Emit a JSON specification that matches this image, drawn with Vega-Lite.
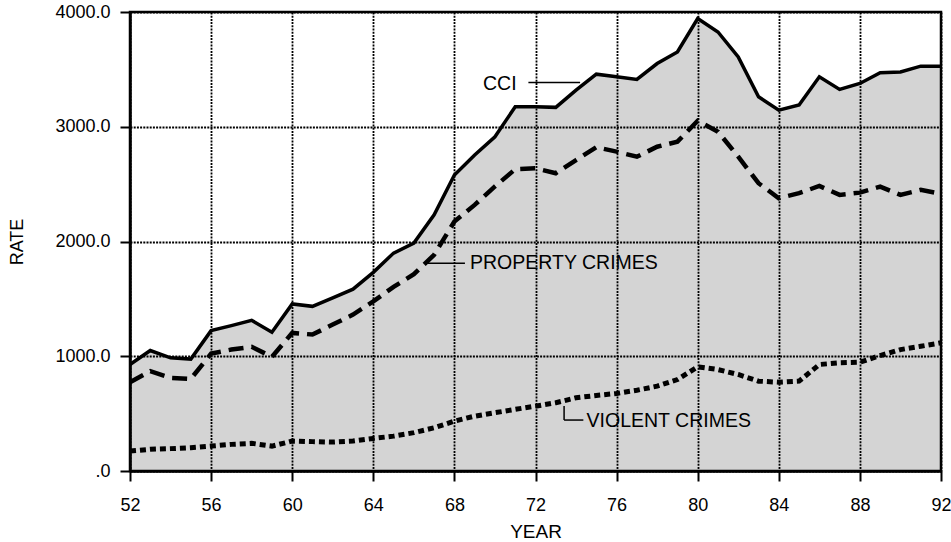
{
  "$schema": "https://vega.github.io/schema/vega-lite/v6.json",
  "width": 811,
  "height": 459,
  "autosize": "none",
  "padding": {"left": 130, "top": 12, "right": 10, "bottom": 71},
  "background": "white",
  "config": {
    "font": "Liberation Sans",
    "view": {"stroke": "black", "strokeWidth": 2.5},
    "axis": {
      "labelFont": "Liberation Sans",
      "titleFont": "Liberation Sans",
      "labelColor": "black",
      "titleColor": "black",
      "titleFontWeight": "normal",
      "labelFontSize": 18,
      "domainColor": "black",
      "domainWidth": 2.5,
      "tickColor": "black",
      "tickWidth": 2,
      "tickSize": 10,
      "gridColor": "black",
      "gridOpacity": 1,
      "gridWidth": 1.8,
      "gridDash": [2, 1.2]
    }
  },
  "datasets": {
    "series": [
      {"year": 52, "series": "CCI", "value": 928},
      {"year": 53, "series": "CCI", "value": 1050},
      {"year": 54, "series": "CCI", "value": 986},
      {"year": 55, "series": "CCI", "value": 975},
      {"year": 56, "series": "CCI", "value": 1223},
      {"year": 57, "series": "CCI", "value": 1267},
      {"year": 58, "series": "CCI", "value": 1313},
      {"year": 59, "series": "CCI", "value": 1209},
      {"year": 60, "series": "CCI", "value": 1456},
      {"year": 61, "series": "CCI", "value": 1435},
      {"year": 62, "series": "CCI", "value": 1508},
      {"year": 63, "series": "CCI", "value": 1585},
      {"year": 64, "series": "CCI", "value": 1731},
      {"year": 65, "series": "CCI", "value": 1899},
      {"year": 66, "series": "CCI", "value": 1986},
      {"year": 67, "series": "CCI", "value": 2232},
      {"year": 68, "series": "CCI", "value": 2580},
      {"year": 69, "series": "CCI", "value": 2754},
      {"year": 70, "series": "CCI", "value": 2913},
      {"year": 71, "series": "CCI", "value": 3174},
      {"year": 72, "series": "CCI", "value": 3174},
      {"year": 73, "series": "CCI", "value": 3169},
      {"year": 74, "series": "CCI", "value": 3319},
      {"year": 75, "series": "CCI", "value": 3458},
      {"year": 76, "series": "CCI", "value": 3435},
      {"year": 77, "series": "CCI", "value": 3412},
      {"year": 78, "series": "CCI", "value": 3551},
      {"year": 79, "series": "CCI", "value": 3652},
      {"year": 80, "series": "CCI", "value": 3943},
      {"year": 81, "series": "CCI", "value": 3826},
      {"year": 82, "series": "CCI", "value": 3609},
      {"year": 83, "series": "CCI", "value": 3261},
      {"year": 84, "series": "CCI", "value": 3145},
      {"year": 85, "series": "CCI", "value": 3189},
      {"year": 86, "series": "CCI", "value": 3435},
      {"year": 87, "series": "CCI", "value": 3325},
      {"year": 88, "series": "CCI", "value": 3377},
      {"year": 89, "series": "CCI", "value": 3470},
      {"year": 90, "series": "CCI", "value": 3478},
      {"year": 91, "series": "CCI", "value": 3528},
      {"year": 92, "series": "CCI", "value": 3528},
      {"year": 52, "series": "Property", "value": 774},
      {"year": 53, "series": "Property", "value": 870},
      {"year": 54, "series": "Property", "value": 812},
      {"year": 55, "series": "Property", "value": 803},
      {"year": 56, "series": "Property", "value": 1023},
      {"year": 57, "series": "Property", "value": 1058},
      {"year": 58, "series": "Property", "value": 1082},
      {"year": 59, "series": "Property", "value": 995},
      {"year": 60, "series": "Property", "value": 1203},
      {"year": 61, "series": "Property", "value": 1189},
      {"year": 62, "series": "Property", "value": 1276},
      {"year": 63, "series": "Property", "value": 1363},
      {"year": 64, "series": "Property", "value": 1478},
      {"year": 65, "series": "Property", "value": 1605},
      {"year": 66, "series": "Property", "value": 1715},
      {"year": 67, "series": "Property", "value": 1884},
      {"year": 68, "series": "Property", "value": 2174},
      {"year": 69, "series": "Property", "value": 2319},
      {"year": 70, "series": "Property", "value": 2480},
      {"year": 71, "series": "Property", "value": 2630},
      {"year": 72, "series": "Property", "value": 2638},
      {"year": 73, "series": "Property", "value": 2595},
      {"year": 74, "series": "Property", "value": 2710},
      {"year": 75, "series": "Property", "value": 2821},
      {"year": 76, "series": "Property", "value": 2783},
      {"year": 77, "series": "Property", "value": 2739},
      {"year": 78, "series": "Property", "value": 2826},
      {"year": 79, "series": "Property", "value": 2870},
      {"year": 80, "series": "Property", "value": 3052},
      {"year": 81, "series": "Property", "value": 2957},
      {"year": 82, "series": "Property", "value": 2739},
      {"year": 83, "series": "Property", "value": 2508},
      {"year": 84, "series": "Property", "value": 2377},
      {"year": 85, "series": "Property", "value": 2421},
      {"year": 86, "series": "Property", "value": 2484},
      {"year": 87, "series": "Property", "value": 2406},
      {"year": 88, "series": "Property", "value": 2426},
      {"year": 89, "series": "Property", "value": 2478},
      {"year": 90, "series": "Property", "value": 2406},
      {"year": 91, "series": "Property", "value": 2450},
      {"year": 92, "series": "Property", "value": 2415},
      {"year": 52, "series": "Violent", "value": 174},
      {"year": 53, "series": "Violent", "value": 189},
      {"year": 54, "series": "Violent", "value": 195},
      {"year": 55, "series": "Violent", "value": 203},
      {"year": 56, "series": "Violent", "value": 217},
      {"year": 57, "series": "Violent", "value": 232},
      {"year": 58, "series": "Violent", "value": 241},
      {"year": 59, "series": "Violent", "value": 217},
      {"year": 60, "series": "Violent", "value": 261},
      {"year": 61, "series": "Violent", "value": 256},
      {"year": 62, "series": "Violent", "value": 252},
      {"year": 63, "series": "Violent", "value": 261},
      {"year": 64, "series": "Violent", "value": 284},
      {"year": 65, "series": "Violent", "value": 304},
      {"year": 66, "series": "Violent", "value": 334},
      {"year": 67, "series": "Violent", "value": 377},
      {"year": 68, "series": "Violent", "value": 435},
      {"year": 69, "series": "Violent", "value": 478},
      {"year": 70, "series": "Violent", "value": 508},
      {"year": 71, "series": "Violent", "value": 537},
      {"year": 72, "series": "Violent", "value": 565},
      {"year": 73, "series": "Violent", "value": 595},
      {"year": 74, "series": "Violent", "value": 638},
      {"year": 75, "series": "Violent", "value": 658},
      {"year": 76, "series": "Violent", "value": 676},
      {"year": 77, "series": "Violent", "value": 704},
      {"year": 78, "series": "Violent", "value": 739},
      {"year": 79, "series": "Violent", "value": 797},
      {"year": 80, "series": "Violent", "value": 908},
      {"year": 81, "series": "Violent", "value": 884},
      {"year": 82, "series": "Violent", "value": 841},
      {"year": 83, "series": "Violent", "value": 783},
      {"year": 84, "series": "Violent", "value": 774},
      {"year": 85, "series": "Violent", "value": 783},
      {"year": 86, "series": "Violent", "value": 928},
      {"year": 87, "series": "Violent", "value": 943},
      {"year": 88, "series": "Violent", "value": 948},
      {"year": 89, "series": "Violent", "value": 1006},
      {"year": 90, "series": "Violent", "value": 1058},
      {"year": 91, "series": "Violent", "value": 1087},
      {"year": 92, "series": "Violent", "value": 1117}
    ],
    "labels": [
      {"label": "CCI", "year": 69.41, "value": 3370},
      {"label": "PROPERTY CRIMES", "year": 68.77, "value": 1810},
      {"label": "VIOLENT CRIMES", "year": 74.52, "value": 440}
    ],
    "leaders": [
      {"year": 71.65, "value": 3385, "year2": 74.2, "value2": 3385},
      {"year": 66.63, "value": 1810, "year2": 68.52, "value2": 1810},
      {"year": 73.41, "value": 566, "year2": 73.41, "value2": 444},
      {"year": 73.41, "value": 444, "year2": 74.36, "value2": 444}
    ]
  },
  "layer": [
    {
      "data": {"name": "series"},
      "transform": [{"filter": "datum.series == 'CCI'"}],
      "mark": {"type": "area", "color": "black", "opacity": 0.17},
      "encoding": {
        "x": {
          "field": "year",
          "type": "quantitative",
          "scale": {"domain": [52, 92], "nice": false, "zero": false},
          "axis": {
            "values": [52, 56, 60, 64, 68, 72, 76, 80, 84, 88, 92],
            "format": "d",
            "title": "YEAR",
            "titleFontSize": 19,
            "titlePadding": 8,
            "labelPadding": 15,
            "labelFlush": false
          }
        },
        "y": {
          "field": "value",
          "type": "quantitative",
          "scale": {"domain": [0, 4000], "nice": false},
          "axis": {
            "values": [0, 1000, 2000, 3000, 4000],
            "labelExpr": "datum.value == 0 ? '.0' : format(datum.value, '.1f')",
            "title": "RATE",
            "titleFontSize": 18,
            "titlePadding": 28,
            "labelPadding": 10,
            "labelFlush": false
          }
        }
      }
    },
    {
      "data": {"name": "series"},
      "transform": [{"filter": "datum.series == 'Violent'"}],
      "mark": {"type": "line", "color": "black", "strokeWidth": 5, "strokeDash": [6, 4]},
      "encoding": {
        "x": {"field": "year", "type": "quantitative"},
        "y": {"field": "value", "type": "quantitative"}
      }
    },
    {
      "data": {"name": "series"},
      "transform": [{"filter": "datum.series == 'Property'"}],
      "mark": {"type": "line", "color": "black", "strokeWidth": 4.5, "strokeDash": [15, 8]},
      "encoding": {
        "x": {"field": "year", "type": "quantitative"},
        "y": {"field": "value", "type": "quantitative"}
      }
    },
    {
      "data": {"name": "series"},
      "transform": [{"filter": "datum.series == 'CCI'"}],
      "mark": {"type": "line", "color": "black", "strokeWidth": 3.5},
      "encoding": {
        "x": {"field": "year", "type": "quantitative"},
        "y": {"field": "value", "type": "quantitative"}
      }
    },
    {
      "data": {"name": "leaders"},
      "mark": {"type": "rule", "color": "black", "strokeWidth": 1.5},
      "encoding": {
        "x": {"field": "year", "type": "quantitative"},
        "x2": {"field": "year2"},
        "y": {"field": "value", "type": "quantitative"},
        "y2": {"field": "value2"}
      }
    },
    {
      "data": {"name": "labels"},
      "mark": {"type": "text", "align": "left", "baseline": "middle", "fontSize": 19.5, "font": "Liberation Sans", "color": "black"},
      "encoding": {
        "x": {"field": "year", "type": "quantitative"},
        "y": {"field": "value", "type": "quantitative"},
        "text": {"field": "label"}
      }
    }
  ]
}
